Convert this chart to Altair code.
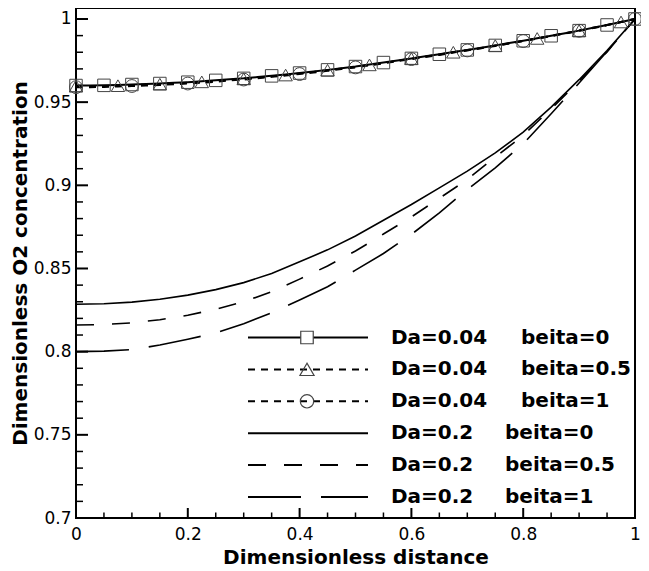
import altair as alt
import pandas as pd

# ---------------- data ----------------
x_fine = [0.0, 0.025, 0.05, 0.075, 0.1, 0.125, 0.15, 0.175, 0.2, 0.225, 0.25,
          0.275, 0.3, 0.325, 0.35, 0.375, 0.4, 0.425, 0.45, 0.475, 0.5, 0.525,
          0.55, 0.575, 0.6, 0.625, 0.65, 0.675, 0.7, 0.725, 0.75, 0.775, 0.8,
          0.825, 0.85, 0.875, 0.9, 0.925, 0.95, 0.975, 1.0]

da004_b0 = [0.9600, 0.9600, 0.9601, 0.9603, 0.9606, 0.9609, 0.9612, 0.9616, 0.9620,
            0.9625, 0.9631, 0.9637, 0.9643, 0.9651, 0.9658, 0.9666, 0.9675, 0.9684,
            0.9694, 0.9704, 0.9714, 0.9726, 0.9738, 0.9751, 0.9763, 0.9776, 0.9788,
            0.9801, 0.9814, 0.9827, 0.9841, 0.9855, 0.9869, 0.9884, 0.9899, 0.9914,
            0.9930, 0.9947, 0.9964, 0.9982, 1.0000]

da004_b05 = [0.9596, 0.9596, 0.9597, 0.9599, 0.9602, 0.9605, 0.9608, 0.9612, 0.9617,
             0.9622, 0.9628, 0.9634, 0.9640, 0.9648, 0.9655, 0.9663, 0.9673, 0.9682,
             0.9692, 0.9702, 0.9712, 0.9724, 0.9736, 0.9749, 0.9762, 0.9775, 0.9787,
             0.9800, 0.9813, 0.9826, 0.9840, 0.9854, 0.9868, 0.9883, 0.9899, 0.9914,
             0.9930, 0.9947, 0.9964, 0.9982, 1.0000]

da004_b1 = [0.9590, 0.9590, 0.9591, 0.9594, 0.9597, 0.9600, 0.9603, 0.9608, 0.9612,
            0.9617, 0.9623, 0.9630, 0.9636, 0.9644, 0.9652, 0.9660, 0.9669, 0.9678,
            0.9688, 0.9699, 0.9709, 0.9721, 0.9733, 0.9747, 0.9759, 0.9772, 0.9784,
            0.9798, 0.9811, 0.9824, 0.9838, 0.9853, 0.9867, 0.9882, 0.9897, 0.9913,
            0.9929, 0.9945, 0.9963, 0.9982, 1.0000]

x_coarse = [0.0, 0.05, 0.1, 0.15, 0.2, 0.25, 0.3, 0.35, 0.4, 0.45, 0.5,
            0.55, 0.6, 0.65, 0.7, 0.75, 0.8, 0.85, 0.9, 0.95, 1.0]

da02_b0 = [0.8285, 0.8288, 0.8298, 0.8315, 0.8340, 0.8373, 0.8415, 0.8470, 0.8540,
           0.8612, 0.8695, 0.8790, 0.8885, 0.8985, 0.9085, 0.9195, 0.9320, 0.9470,
           0.9635, 0.9810, 1.0000]

da02_b05 = [0.8160, 0.8163, 0.8173, 0.8192, 0.8219, 0.8255, 0.8300, 0.8360, 0.8436,
            0.8515, 0.8605, 0.8707, 0.8810, 0.8922, 0.9035, 0.9170, 0.9300, 0.9460,
            0.9625, 0.9802, 1.0000]

da02_b1 = [0.8000, 0.8003, 0.8012, 0.8040, 0.8075, 0.8112, 0.8168, 0.8234, 0.8310,
           0.8390, 0.8490, 0.8590, 0.8705, 0.8835, 0.8975, 0.9105, 0.9250, 0.9430,
           0.9615, 0.9805, 1.0000]

legend_da = ["Da=0.04", "Da=0.04", "Da=0.04", "Da=0.2", "Da=0.2", "Da=0.2"]
legend_beita = ["beita=0", "beita=0.5", "beita=1", "beita=0", "beita=0.5", "beita=1"]

x_major = [0.0, 0.2, 0.4, 0.6, 0.8, 1.0]
x_minor = [0.05, 0.1, 0.15, 0.25, 0.3, 0.35, 0.45, 0.5, 0.55, 0.65, 0.7, 0.75,
           0.85, 0.9, 0.95]
y_major = [0.7, 0.75, 0.8, 0.85, 0.9, 0.95, 1.0]
y_minor = [0.71, 0.72, 0.73, 0.74, 0.76, 0.77, 0.78, 0.79, 0.81, 0.82, 0.83, 0.84,
           0.86, 0.87, 0.88, 0.89, 0.91, 0.92, 0.93, 0.94, 0.96, 0.97, 0.98, 0.99]

# ---------------- layout / style ----------------
W, H = 559, 510
FONT = "DejaVu Sans"
MARK_COL = "#444444"

xscale = alt.Scale(domain=[0, 1], nice=False, zero=False)
yscale = alt.Scale(domain=[0.7, 1.0066], nice=False, zero=False)

xaxis = alt.Axis(values=x_major, format="~g", ticks=False, tickSize=0, domain=False,
                 grid=False, labelFlush=False, labelOverlap=False, labelFont=FONT,
                 labelFontSize=17, labelColor="black", labelPadding=8,
                 title="Dimensionless distance", titleFont=FONT, titleFontSize=20,
                 titleFontWeight="bold", titleColor="black", titleX=W / 2, titleY=45,
                 titleBaseline="alphabetic", titleAlign="center")
yaxis = alt.Axis(values=y_major, format="~g", ticks=False, tickSize=0, domain=False,
                 grid=False, labelFlush=False, labelOverlap=False, labelFont=FONT,
                 labelFontSize=17, labelColor="black", labelPadding=5,
                 title="Dimensionless O2 concentration", titleFont=FONT,
                 titleFontSize=20, titleFontWeight="bold", titleColor="black",
                 titleAngle=270, titleX=-50, titleY=H / 2,
                 titleBaseline="alphabetic", titleAlign="center")

xenc = alt.X("x:Q", scale=xscale, axis=xaxis)
yenc = alt.Y("y:Q", scale=yscale, axis=yaxis)

layers = []

# inward ticks
layers.append(alt.Chart(pd.DataFrame({"x": x_major})).mark_rule(color="black", strokeWidth=2)
              .encode(x=xenc, y=alt.value(H), y2=alt.value(H - 10)))
layers.append(alt.Chart(pd.DataFrame({"x": x_minor})).mark_rule(color="black", strokeWidth=1.5)
              .encode(x=xenc, y=alt.value(H), y2=alt.value(H - 5.5)))
layers.append(alt.Chart(pd.DataFrame({"y": y_major})).mark_rule(color="black", strokeWidth=2)
              .encode(y=yenc, x=alt.value(0), x2=alt.value(12)))
layers.append(alt.Chart(pd.DataFrame({"y": y_minor})).mark_rule(color="black", strokeWidth=1.5)
              .encode(y=yenc, x=alt.value(0), x2=alt.value(7)))

SHORT = [7, 6]
MED = [18, 18]
LONG = [53, 20]

series = [
    (x_fine, da004_b0, None, 2.0),
    (x_fine, da004_b05, SHORT, 2.0),
    (x_fine, da004_b1, SHORT, 2.0),
    (x_coarse, da02_b0, None, 1.6),
    (x_coarse, da02_b05, MED, 1.6),
    (x_coarse, da02_b1, LONG, 1.6),
]

for xs, ys, dash, w in series:
    df = pd.DataFrame({"x": xs, "y": ys})
    kw = dict(color="black", strokeWidth=w)
    if dash:
        kw["strokeDash"] = dash
    layers.append(alt.Chart(df).mark_line(**kw).encode(x=xenc, y=yenc))

markers = [
    (da004_b0, 2, "square", 156),
    (da004_b05, 3, "triangle-up", 180),
    (da004_b1, 4, "circle", 165),
]
for ys, step, shape, size in markers:
    df = pd.DataFrame({"x": x_fine[::step], "y": ys[::step]})
    layers.append(alt.Chart(df).mark_point(shape=shape, size=size, filled=False,
                                           color=MARK_COL, strokeWidth=1, opacity=1)
                  .encode(x=xenc, y=yenc))

# legend
legend_df = pd.DataFrame({"row": list(range(6)), "da": legend_da, "beita": legend_beita})
leg_dash = [None, SHORT, SHORT, None, MED, LONG]
leg_shape = ["square", "triangle-up", "circle", None, None, None]
leg_size = [156, 200, 180, 0, 0, 0]
leg_fill = [True, False, False, False, False, False]
for i in range(6):
    yp = 329.5 + 31.9 * i
    base = alt.Chart(legend_df).transform_filter(alt.datum.row == i)
    kw = dict(color="black", strokeWidth=2)
    if leg_dash[i]:
        kw["strokeDash"] = leg_dash[i]
    layers.append(base.mark_rule(**kw).encode(x=alt.value(172), x2=alt.value(292),
                                              y=alt.value(yp)))
    if leg_shape[i]:
        pkw = dict(shape=leg_shape[i], size=leg_size[i], stroke=MARK_COL,
                   strokeWidth=1.2, opacity=1)
        if leg_fill[i]:
            pkw.update(filled=True, fill="white")
        else:
            pkw.update(filled=False)
        layers.append(base.mark_point(**pkw)
                      .encode(x=alt.value(231), y=alt.value(yp)))
    layers.append(base.mark_text(align="left", baseline="middle", font=FONT, fontSize=20,
                                 fontWeight="bold", color="black")
                  .encode(x=alt.value(315), y=alt.value(yp), text="da:N"))
    bx = 445 if i < 3 else 429
    layers.append(base.mark_text(align="left", baseline="middle", font=FONT, fontSize=20,
                                 fontWeight="bold", color="black")
                  .encode(x=alt.value(bx), y=alt.value(yp), text="beita:N"))

chart = (alt.layer(*layers)
         .properties(width=W, height=H,
                     padding={"left": 68, "top": 0, "right": 6, "bottom": 50},
                     autosize=alt.AutoSizeParams(type="none"),
                     background="white")
         .configure_view(stroke="black", strokeWidth=2))

chart.save("out.html", embed_options={"renderer": "svg", "actions": False})
